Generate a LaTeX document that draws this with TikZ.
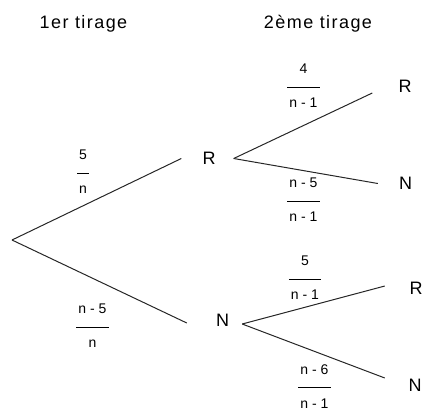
\documentclass[tikz,border=0pt]{standalone}
\usepackage{fontspec}
\setmainfont{Liberation Sans}
\newfontfamily\headfont{Liberation Sans}[LetterSpace=8]
\usepackage{array}
\usetikzlibrary{calc}
\setlength{\arrayrulewidth}{0.8pt}
\newcommand{\frc}[2]{\begin{tabular}{@{\hspace{2pt}}c@{\hspace{2pt}}}#1\\[8pt]\hline\rule{0pt}{20pt}#2\end{tabular}}
\tikzset{
  state/.style={font=\fontsize{18}{21}\selectfont, inner xsep=21pt, inner ysep=0pt},
  prob/.style={font=\fontsize{14}{17}\selectfont, inner sep=0pt},
  head/.style={font=\headfont\fontsize{18}{21}\selectfont, anchor=base},
  branch/.style={line width=1pt, color=black!85}
}

\begin{document}
\begin{tikzpicture}[x=1pt, y=-1pt]
    \useasboundingbox (0,0) rectangle (425,410);

    % Headers
    \node[head] (h1) at (83.5,28) {1er tirage};
    \node[head] (h2) at (318,28) {2ème tirage};

    % Root and first draw
    \coordinate (O) at (12,240);
    \node[state] (R1) at (209,158.5) {R};
    \node[state] (N1) at (222.5,320) {N};

    % Second draw
    \node[state] (RR) at (405,86.5) {R};
    \node[state] (RN) at (405.5,183.5) {N};
    \node[state] (NR) at (416,288.5) {R};
    \node[state] (NN) at (415,385.5) {N};

    % Branches
    \draw[branch] (O) -- (R1.west);
    \draw[branch] (O) -- ($(N1.west)+(-8,3)$);
    \draw[branch] ($(R1.east)+(-3,0)$) -- ($(RR.west)+(-5,6.5)$);
    \draw[branch] ($(R1.east)+(-3,0)$) -- (RN.west);
    \draw[branch] ($(N1.east)+(-8,4)$) -- ($(NR.west)+(-3.5,-2.5)$);
    \draw[branch] ($(N1.east)+(-8,4)$) -- ($(NN.west)+(-2.5,-7.5)$);

    % Probabilities
    \node[prob] (pR) at (83,173) {\frc{5}{n}};
    \node[prob] (pN) at (92.5,327) {\frc{n - 5}{n}};
    \node[prob] (pRR) at (303.5,87) {\frc{4}{n - 1}};
    \node[prob] (pRN) at (303.5,201) {\frc{n - 5}{n - 1}};
    \node[prob] (pNR) at (305,279) {\frc{5}{n - 1}};
    \node[prob] (pNN) at (314.5,387.7) {\frc{n - 6}{n - 1}};
\end{tikzpicture}
\end{document}
